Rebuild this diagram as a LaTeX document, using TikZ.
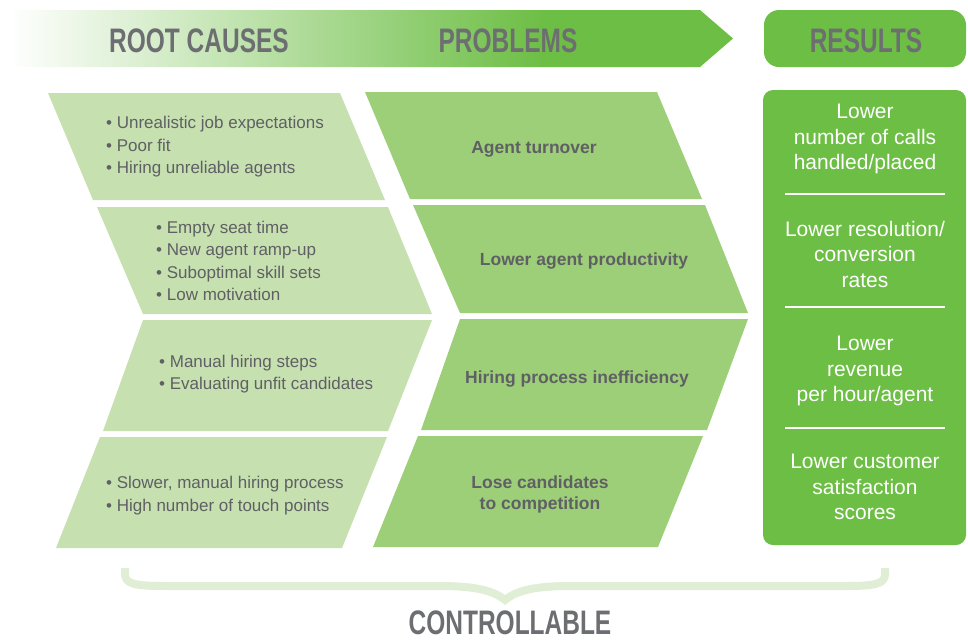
\documentclass[tikz,border=0pt]{standalone}
\usepackage{fontspec}
\setmainfont{Liberation Sans}
\newfontfamily\headfont[FakeStretch=0.72]{Liberation Sans}
\usetikzlibrary{positioning}
\definecolor{hdgreen}{HTML}{6DBE45}
\definecolor{midgreen}{HTML}{9DCE78}
\definecolor{lightgreen}{HTML}{C6E0B0}
\definecolor{bracegreen}{HTML}{E1EED6}
\definecolor{txtgray}{HTML}{5F6064}
\definecolor{headgray}{HTML}{6D6E71}
% path spans 25bp..75bp of the shading
\pgfdeclarehorizontalshading{hdfade}{100bp}{color(0bp)=(white); color(25bp)=(white); color(62bp)=(hdgreen); color(100bp)=(hdgreen)}

\begin{document}
\begin{tikzpicture}[x=1pt,y=-1pt,
    cause/.style={fill=lightgreen},
    problem/.style={fill=midgreen},
    causetext/.style={anchor=west,align=left,inner sep=0pt,text=txtgray,font=\fontsize{17}{22.5}\selectfont},
    probtext/.style={align=center,inner sep=0pt,text=txtgray,font=\bfseries\fontsize{17.5}{21}\selectfont},
    restext/.style={align=center,inner sep=0pt,text=white,font=\fontsize{21}{25.5}\selectfont},
    title/.style={inner sep=0pt,text=headgray,font=\headfont\bfseries\fontsize{34}{34}\selectfont},
    divider/.style={white,line width=1.2pt}]

\useasboundingbox (0,0) rectangle (968,641);

% Header band
\shade[shading=hdfade] (8,10) -- (700,10) -- (733,38.5) -- (700,67) -- (8,67) -- cycle;
\fill[hdgreen,rounded corners=15pt] (764,10) rectangle (966,67);
\node[title] (rootcauses) at (199,41) {ROOT CAUSES};
\node[title] (problems) at (508,41) {PROBLEMS};
\node[title] (results) at (866,41) {RESULTS};

% Root causes (left chevron)
\fill[cause] (48,93) -- (340,93) -- (385,200) -- (93,200) -- cycle;
\fill[cause] (97,207) -- (388,207) -- (432,314) -- (143,314) -- cycle;
\fill[cause] (143,320) -- (432,320) -- (388,431) -- (103,431) -- cycle;
\fill[cause] (100,437) -- (387,437) -- (342,548) -- (56,548) -- cycle;

\node[causetext] (cause1) at (106,147) {\textbullet\ Unrealistic job expectations\\\textbullet\ Poor fit\\\textbullet\ Hiring unreliable agents};
\node[causetext] (cause2) at (156,261) {\textbullet\ Empty seat time\\\textbullet\ New agent ramp-up\\\textbullet\ Suboptimal skill sets\\\textbullet\ Low motivation};
\node[causetext] (cause3) at (159,374) {\textbullet\ Manual hiring steps\\\textbullet\ Evaluating unfit candidates};
\node[causetext] (cause4) at (106,495.5) {\textbullet\ Slower, manual hiring process\\\textbullet\ High number of touch points};

% Problems (middle chevron)
\fill[problem] (365,92) -- (657,92) -- (702,199) -- (410,199) -- cycle;
\fill[problem] (413,205) -- (705,205) -- (748,313) -- (460,313) -- cycle;
\fill[problem] (460,319) -- (748,319) -- (707,430) -- (421,430) -- cycle;
\fill[problem] (418,436) -- (703,436) -- (658,547) -- (373,547) -- cycle;

\node[probtext] (prob1) at (534,149) {Agent turnover};
\node[probtext] (prob2) at (584,261) {Lower agent productivity};
\node[probtext] (prob3) at (577,379) {Hiring process inefficiency};
\node[probtext] (prob4) at (540,494) {Lose candidates\\to competition};

% Results column
\fill[hdgreen,rounded corners=10pt] (763,90) rectangle (966,545);
\node[restext] (res1) at (865,139) {Lower\\number of calls\\handled/placed};
\node[restext] (res2) at (865,254) {Lower resolution/\\conversion\\rates};
\node[restext] (res3) at (865,371) {Lower\\revenue\\per hour/agent};
\node[restext] (res4) at (865,487) {Lower customer\\satisfaction\\scores};
\draw[divider] (785,194) -- (945,194);
\draw[divider] (785,307) -- (945,307);
\draw[divider] (785,428) -- (945,428);

% Brace underneath
\draw[bracegreen,line width=8pt]
  (125,568) -- (125,574) .. controls (125,584) and (135,586) .. (165,586)
  -- (440,586) .. controls (480,586) and (495,592) .. (505,600)
  .. controls (515,592) and (530,586) .. (570,586)
  -- (845,586) .. controls (875,586) and (885,584) .. (885,574) -- (885,568);
\node[title] (controllable) at (510,623) {CONTROLLABLE};

\end{tikzpicture}
\end{document}
